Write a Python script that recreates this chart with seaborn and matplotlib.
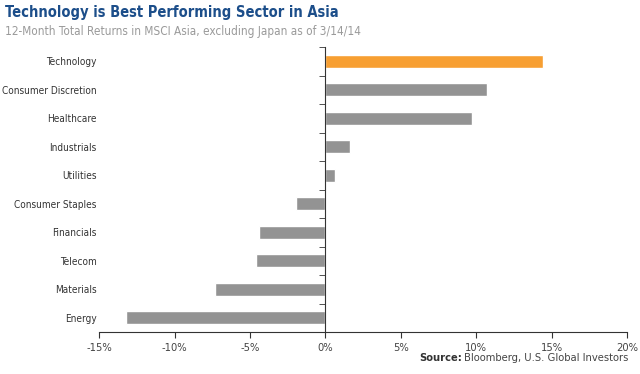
import matplotlib.pyplot as plt
import seaborn as sns
import pandas as pd
from matplotlib.ticker import FixedLocator, FuncFormatter

sectors = ["Technology", "Consumer Discretion", "Healthcare", "Industrials", "Utilities",
           "Consumer Staples", "Financials", "Telecom", "Materials", "Energy"]
returns = [14.4, 10.7, 9.7, 1.65, 0.65, -1.95, -4.4, -4.6, -7.35, -13.2]
bar_colors = ["#F79F32"] + ["#939393"] * 9

df = pd.DataFrame({"sector": sectors, "ret": returns})

sns.set_style("white")
plt.rcParams["font.family"] = ["DejaVu Sans"]
plt.rcParams["font.stretch"] = "condensed"

fig = plt.figure(figsize=(6.4, 3.74), dpi=100)
ax = fig.add_axes([0.155, 0.112, 0.825, 0.762])

sns.barplot(data=df, y="sector", x="ret", hue="sector", palette=bar_colors,
            legend=False, width=0.45, ax=ax, saturation=1)

ax.set_xlim(-15, 20)
ax.set_xticks(range(-15, 21, 5))
ax.xaxis.set_major_formatter(FuncFormatter(lambda v, p: f"{v:.0f}%"))
ax.set_xlabel("")
ax.set_ylabel("")

for s in ["top", "left"]:
    ax.spines[s].set_visible(False)
ax.spines["right"].set_position(("data", 0))
ax.spines["right"].set_color("#333333")
ax.spines["bottom"].set_color("#333333")

ax.yaxis.set_minor_locator(FixedLocator([i + 0.5 for i in range(-1, len(sectors))]))
ax.tick_params(axis="y", which="major", left=True, right=False, length=0,
               labelsize=7.2, colors="#333333", pad=2)
ax.tick_params(axis="y", which="minor", left=False, right=True, direction="in",
               length=4, color="#333333")
ax.tick_params(axis="x", bottom=True, direction="out", length=4, color="#333333",
               labelsize=8, labelcolor="#444444")

fig.text(0.008, 0.966, "Technology is Best Performing Sector in Asia", fontsize=10.5,
         fontweight="bold", color="#1C4E8A", va="center")
fig.text(0.008, 0.916, "12-Month Total Returns in MSCI Asia, excluding Japan as of 3/14/14",
         fontsize=8.5, color="#9A9A9A", va="center")
src = fig.text(0.982, 0.043, "Bloomberg, U.S. Global Investors", fontsize=8,
               color="#444444", ha="right", va="center")
fig.canvas.draw()
bb = src.get_window_extent()
fig.text((bb.x0 - 2) / fig.bbox.width, 0.043, "Source:", fontsize=8, fontweight="bold",
         color="#333333", ha="right", va="center")

fig.savefig("out.png", dpi=100)
